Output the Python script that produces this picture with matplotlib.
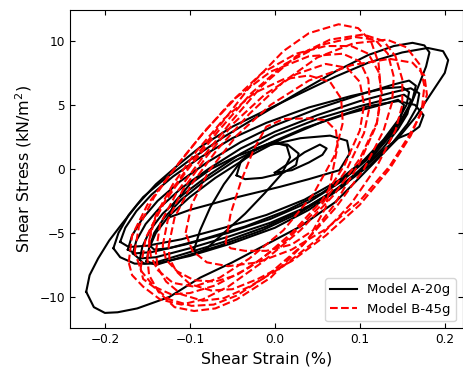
import numpy as np
import matplotlib
matplotlib.use("Agg")
import matplotlib.pyplot as plt

# ---- Model A-20g (black) : loops of (shear strain %, shear stress kN/m2)
a_outer = [(-0.222,-9.6),(-0.218,-8.3),(-0.208,-7.0),(-0.195,-5.6),(-0.180,-4.3),(-0.162,-2.8),
           (-0.140,-1.2),(-0.114,0.3),(-0.088,1.7),(-0.050,3.3),(-0.010,4.6),(0.030,5.9),(0.071,7.2),
           (0.110,8.3),(0.150,9.1),(0.180,9.45),(0.198,9.2),(0.204,8.5),(0.200,7.5),(0.190,6.5),
           (0.178,5.3),(0.165,4.0),(0.145,2.4),(0.120,0.7),(0.095,-1.0),(0.071,-2.6),(0.030,-4.5),
           (-0.010,-5.9),(-0.050,-7.3),(-0.088,-8.5),(-0.124,-10.0),(-0.162,-10.9),(-0.185,-11.2),
           (-0.200,-11.25),(-0.213,-10.8),(-0.222,-9.6)]
a_big = [(-0.190,-6.2),(-0.184,-5.0),(-0.172,-3.6),(-0.155,-2.2),(-0.130,-0.8),(-0.100,0.7),
         (-0.060,2.5),(-0.020,4.1),(0.026,5.9),(0.071,7.6),(0.110,8.9),(0.140,9.6),(0.162,9.85),
         (0.176,9.65),(0.182,9.1),(0.178,8.0),(0.168,6.3),(0.160,5.0),(0.150,3.8),(0.135,2.5),
         (0.110,0.6),(0.080,-1.4),(0.040,-3.2),(0.000,-4.6),(-0.050,-5.8),(-0.100,-6.8),
         (-0.140,-7.4),(-0.165,-7.4),(-0.182,-6.9),(-0.190,-6.2)]
a_m1 = [(-0.182,-5.7),(-0.176,-4.6),(-0.163,-3.3),(-0.145,-2.0),(-0.120,-0.6),(-0.090,0.8),
        (-0.050,2.4),(-0.010,3.6),(0.040,4.8),(0.090,5.7),(0.130,6.3),(0.150,6.4),(0.158,6.0),
        (0.155,5.0),(0.145,3.8),(0.128,2.3),(0.105,0.7),(0.075,-0.9),(0.035,-2.4),(-0.010,-3.6),
        (-0.060,-4.6),(-0.110,-5.5),(-0.150,-6.0),(-0.172,-6.1),(-0.182,-5.7)]
a_m2 = [(-0.173,-6.3),(-0.168,-5.2),(-0.156,-3.9),(-0.138,-2.5),(-0.112,-1.0),(-0.080,0.5),
        (-0.040,2.1),(0.000,3.4),(0.050,4.7),(0.100,5.8),(0.140,6.6),(0.158,6.9),(0.166,6.5),
        (0.162,5.4),(0.150,4.0),(0.132,2.4),(0.108,0.7),(0.078,-1.0),(0.040,-2.6),(-0.005,-3.9),
        (-0.055,-5.0),(-0.105,-5.9),(-0.145,-6.5),(-0.165,-6.6),(-0.173,-6.3)]
a_m3 = [(-0.167,-6.6),(-0.163,-5.6),(-0.152,-4.3),(-0.135,-3.0),(-0.110,-1.5),(-0.078,0.0),
        (-0.040,1.6),(0.000,2.9),(0.050,4.2),(0.100,5.3),(0.140,6.0),(0.160,6.3),(0.170,5.9),
        (0.167,4.8),(0.156,3.5),(0.138,2.0),(0.112,0.3),(0.080,-1.3),(0.040,-2.9),(-0.005,-4.2),
        (-0.055,-5.3),(-0.100,-6.2),(-0.140,-6.9),(-0.160,-7.0),(-0.167,-6.6)]
a_m4 = [(-0.159,-7.1),(-0.156,-6.1),(-0.147,-4.8),(-0.132,-3.5),(-0.108,-2.0),(-0.076,-0.4),
        (-0.040,1.2),(0.000,2.6),(0.050,3.9),(0.100,4.9),(0.135,5.5),(0.152,5.8),(0.160,5.4),
        (0.156,4.3),(0.145,3.1),(0.127,1.6),(0.102,0.0),(0.072,-1.6),(0.035,-3.1),(-0.010,-4.5),
        (-0.060,-5.7),(-0.105,-6.6),(-0.140,-7.3),(-0.154,-7.4),(-0.159,-7.1)]
a_m5 = [(-0.151,-7.2),(-0.148,-6.2),(-0.140,-5.0),(-0.125,-3.7),(-0.100,-2.2),(-0.070,-0.7),
        (-0.030,1.0),(0.010,2.4),(0.060,3.8),(0.110,4.9),(0.145,5.3),(0.165,5.0),(0.175,4.2),
        (0.170,3.3),(0.160,2.8),(0.145,2.4),(0.125,1.3),(0.100,-0.2),(0.070,-1.8),(0.030,-3.4),
        (-0.015,-4.8),(-0.065,-6.0),(-0.110,-6.9),(-0.140,-7.5),(-0.151,-7.2)]
a_m6 = [(-0.147,-6.0),(-0.142,-5.0),(-0.130,-3.8),(-0.110,-2.4),(-0.082,-0.9),(-0.048,0.6),
        (-0.010,1.9),(0.035,3.2),(0.085,4.3),(0.125,5.0),(0.145,5.4),(0.152,5.0),(0.148,4.0),
        (0.136,2.8),(0.116,1.3),(0.090,-0.3),(0.055,-1.9),(0.012,-3.3),(-0.035,-4.5),
        (-0.085,-5.5),(-0.125,-6.2),(-0.142,-6.3),(-0.147,-6.0)]
a_i1 = [(-0.095,-6.3),(-0.088,-4.8),(-0.076,-3.0),(-0.060,-1.2),(-0.042,0.4),(-0.022,1.6),
        (-0.002,2.1),(0.014,1.8),(0.018,0.9),(0.008,-0.4),(-0.012,-1.9),(-0.035,-3.5),
        (-0.060,-5.0),(-0.080,-6.2),(-0.092,-6.6),(-0.095,-6.3)]
a_i2 = [(-0.125,-3.8),(-0.118,-2.6),(-0.100,-1.2),(-0.075,0.0),(-0.045,1.0),(-0.010,1.8),
        (0.030,2.4),(0.065,2.6),(0.085,2.2),(0.088,1.2),(0.076,-0.1),(0.040,-0.8),(0.006,-1.4),
        (-0.050,-2.3),(-0.100,-3.2),(-0.125,-3.8)]
a_i3 = [(0.000,-0.3),(0.020,0.6),(0.035,1.3),(0.053,1.9),(0.061,1.6),(0.056,1.1),(0.040,0.5),
        (0.020,-0.1),(0.000,-0.3)]
a_i4 = [(-0.045,-0.5),(-0.040,0.6),(-0.025,1.5),(-0.005,2.0),(0.015,1.9),(0.028,1.2),
        (0.025,0.3),(0.010,-0.3),(-0.015,-0.7),(-0.035,-0.8),(-0.045,-0.5)]

# ---- Model B-45g (red dashed)
b_1 = [(-0.150,-7.0),(-0.145,-4.5),(-0.125,-2.0),(-0.095,0.8),(-0.060,3.8),(-0.025,6.8),
       (0.010,9.2),(0.040,10.6),(0.075,11.3),(0.098,11.0),(0.113,10.0),(0.122,8.3),(0.125,6.0),
       (0.120,3.5),(0.100,0.5),(0.070,-2.8),(0.035,-5.8),(-0.005,-8.5),(-0.045,-10.2),
       (-0.070,-10.9),(-0.095,-11.1),(-0.118,-10.8),(-0.137,-9.6),(-0.148,-8.3),(-0.150,-7.0)]
b_2 = [(-0.140,-6.5),(-0.135,-4.3),(-0.115,-1.8),(-0.085,0.9),(-0.050,3.8),(-0.015,6.5),
       (0.025,8.8),(0.065,10.1),(0.104,10.5),(0.128,10.0),(0.142,8.8),(0.150,7.0),(0.150,5.0),
       (0.142,3.0),(0.120,0.2),(0.090,-2.7),(0.050,-5.5),(0.010,-7.6),(-0.030,-9.2),
       (-0.060,-10.1),(-0.085,-10.3),(-0.110,-9.8),(-0.128,-8.8),(-0.138,-7.7),(-0.140,-6.5)]
b_3 = [(-0.125,-6.0),(-0.118,-3.8),(-0.098,-1.2),(-0.068,1.5),(-0.030,4.3),(0.010,6.8),
       (0.050,8.7),(0.092,9.8),(0.132,10.1),(0.155,9.5),(0.170,8.2),(0.176,6.5),(0.173,4.6),
       (0.160,2.6),(0.135,0.0),(0.100,-2.8),(0.060,-5.2),(0.020,-7.2),(-0.020,-8.6),
       (-0.050,-9.4),(-0.075,-9.5),(-0.100,-9.0),(-0.116,-8.0),(-0.124,-7.0),(-0.125,-6.0)]
b_4 = [(-0.172,-7.3),(-0.168,-5.2),(-0.150,-2.8),(-0.122,-0.3),(-0.088,2.5),(-0.052,5.2),
       (-0.015,7.5),(0.025,9.0),(0.060,9.6),(0.090,9.6),(0.110,9.0),(0.122,7.6),(0.126,5.8),
       (0.120,3.6),(0.100,0.8),(0.070,-2.0),(0.030,-4.8),(-0.015,-7.3),(-0.055,-9.2),
       (-0.085,-10.2),(-0.110,-10.6),(-0.135,-10.2),(-0.155,-9.2),(-0.168,-8.3),(-0.172,-7.3)]
b_5 = [(-0.165,-6.5),(-0.160,-4.5),(-0.142,-2.2),(-0.115,0.3),(-0.082,3.0),(-0.045,5.6),
       (-0.005,7.6),(0.040,8.8),(0.080,9.0),(0.100,8.4),(0.110,7.0),(0.112,5.0),(0.105,2.8),
       (0.085,0.0),(0.055,-2.8),(0.015,-5.5),(-0.030,-7.7),(-0.070,-9.1),(-0.100,-9.7),
       (-0.122,-9.8),(-0.142,-9.2),(-0.157,-8.0),(-0.165,-6.5)]
b_6 = [(-0.132,-6.0),(-0.126,-4.0),(-0.108,-1.6),(-0.080,1.0),(-0.048,3.6),(-0.012,5.8),
       (0.025,7.4),(0.060,8.2),(0.085,7.9),(0.100,6.8),(0.105,5.0),(0.100,3.0),(0.082,0.3),
       (0.055,-2.5),(0.020,-5.0),(-0.015,-7.0),(-0.045,-8.3),(-0.070,-8.8),(-0.095,-8.7),
       (-0.115,-8.0),(-0.128,-7.1),(-0.132,-6.0)]
b_7 = [(-0.148,-5.6),(-0.140,-3.6),(-0.120,-1.2),(-0.092,1.4),(-0.060,3.9),(-0.025,5.9),
       (0.010,7.0),(0.040,7.3),(0.065,6.8),(0.078,5.5),(0.080,3.6),(0.070,1.0),(0.045,-2.0),
       (0.010,-4.8),(-0.030,-7.0),(-0.065,-8.5),(-0.095,-9.2),(-0.120,-8.9),(-0.138,-7.9),
       (-0.146,-6.8),(-0.148,-5.6)]
b_8 = [(-0.058,-5.8),(-0.052,-3.5),(-0.040,-1.0),(-0.025,1.5),(-0.010,3.3),(0.010,3.9),
       (0.040,3.95),(0.060,3.8),(0.072,3.0),(0.074,1.8),(0.068,-0.2),(0.060,-3.0),(0.045,-4.8),
       (0.020,-5.9),(-0.010,-6.4),(-0.035,-6.4),(-0.052,-6.2),(-0.058,-5.8)]
b_9 = [(-0.105,-5.0),(-0.098,-2.8),(-0.078,-0.2),(-0.045,2.6),(-0.005,5.0),(0.040,6.9),
       (0.090,8.1),(0.135,8.6),(0.162,8.3),(0.176,7.3),(0.179,5.8),(0.172,4.3),(0.158,2.6),
       (0.135,0.2),(0.100,-2.5),(0.060,-4.7),(0.020,-6.3),(-0.020,-7.3),(-0.055,-7.6),
       (-0.080,-7.3),(-0.097,-6.4),(-0.105,-5.0)]
b_10 = [(-0.158,-7.8),(-0.152,-5.4),(-0.132,-2.8),(-0.102,0.0),(-0.066,3.0),(-0.028,5.9),
        (0.012,8.2),(0.055,9.7),(0.095,10.3),(0.118,10.1),(0.133,9.0),(0.140,7.2),(0.138,5.2),
        (0.128,3.0),(0.105,0.0),(0.072,-3.0),(0.032,-6.0),(-0.010,-8.4),(-0.045,-9.9),
        (-0.072,-10.6),(-0.098,-10.7),(-0.124,-10.2),(-0.143,-9.2),(-0.155,-8.6),(-0.158,-7.8)]

model_a_loops = [a_outer, a_big, a_m1, a_m2, a_m3, a_m4, a_m5, a_m6, a_i1, a_i2, a_i3, a_i4]
model_b_loops = [b_1, b_2, b_3, b_4, b_5, b_6, b_7, b_8, b_9, b_10]
series_labels = ["Model A-20g", "Model B-45g"]
x_ticks = [-0.2, -0.1, 0.0, 0.1, 0.2]
y_ticks = [-10, -5, 0, 5, 10]

fig = plt.figure(figsize=(4.64, 3.68), dpi=100)
ax = fig.add_axes([0.151, 0.109, 0.846, 0.864])

for i, loop in enumerate(model_a_loops):
    arr = np.array(loop)
    ax.plot(arr[:, 0], arr[:, 1], color="black", lw=1.5, solid_joinstyle="round",
            label=series_labels[0] if i == 0 else None)
for i, loop in enumerate(model_b_loops):
    arr = np.array(loop)
    ax.plot(arr[:, 0], arr[:, 1], color="red", lw=1.5, ls="--",
            label=series_labels[1] if i == 0 else None)

ax.set_xlim(-0.241, 0.221)
ax.set_ylim(-12.42, 12.42)
ax.set_xticks(x_ticks)
ax.set_yticks(y_ticks)
ax.tick_params(direction="in", top=True, right=True, labelsize=8.7)
ax.set_xlabel("Shear Strain (%)", fontsize=11.4)
ax.set_ylabel("Shear Stress (kN/m$^2$)", fontsize=11.4)
ax.legend(loc="lower right", fontsize=9.5)

fig.savefig("out.png", dpi=100)
